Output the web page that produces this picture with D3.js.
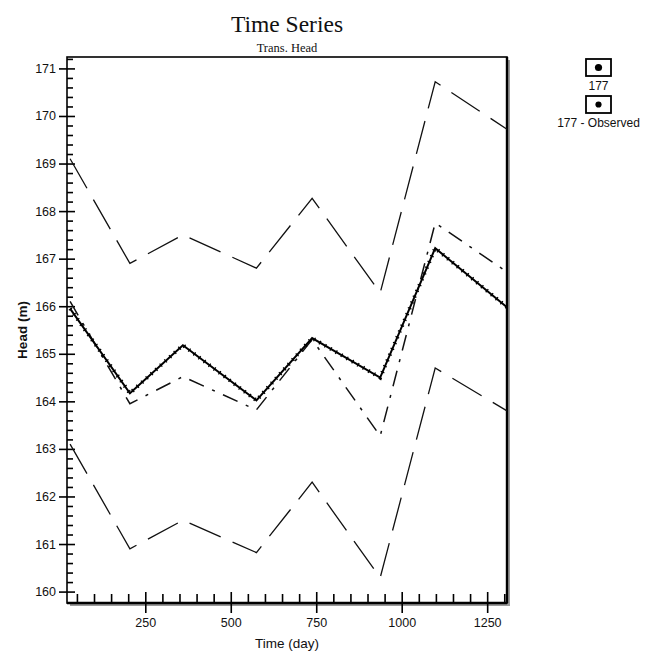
<!DOCTYPE html>
<html>
<head>
<meta charset="utf-8">
<script src="https://cdn.jsdelivr.net/npm/d3@7"></script>
<style>
  body { margin: 0; background: #fff; }
  svg { display: block; }
  text { font-family: "Liberation Sans", Arial, sans-serif; fill: #111; }
</style>
</head>
<body>
<svg id="chart" width="655" height="652"></svg>
<script>
// ---- data ----
const times      = [30, 205, 360, 575, 738, 937, 1098, 1308];
const simulated  = [165.95, 164.17, 165.18, 164.02, 165.33, 164.5, 167.22, 165.98];
const observed   = [166.1, 163.95, 164.52, 163.82, 165.3, 163.27, 167.75, 166.72];
const upperBound = [169.1, 166.9, 167.5, 166.8, 168.27, 166.28, 170.72, 169.72];
const lowerBound = [163.1, 160.9, 161.5, 160.82, 162.3, 160.29, 164.7, 163.8];
const yMajorTicks = [160, 161, 162, 163, 164, 165, 166, 167, 168, 169, 170, 171];
const xMajorTicks = [250, 500, 750, 1000, 1250];
const legendLabels = ["177", "177 - Observed"];

const svg = d3.select("#chart");
const L = 67, R = 507, T = 57, B = 603;

const x = d3.scaleLinear().domain([21, 1308]).range([L, R]);
const y = d3.scaleLinear().domain([159.76, 171.24]).range([B, T]);

// shadow + frame
svg.append("rect").attr("x", L + 3).attr("y", T + 3).attr("width", R - L).attr("height", B - T)
  .attr("fill", "#9a9a9a");
svg.append("rect").attr("x", L).attr("y", T).attr("width", R - L).attr("height", B - T)
  .attr("fill", "#fff").attr("stroke", "#000").attr("stroke-width", 1.6);
svg.append("line").attr("x1", R).attr("x2", R).attr("y1", T).attr("y2", B)
  .attr("stroke", "#000").attr("stroke-width", 2.4);
svg.append("line").attr("x1", L).attr("x2", R).attr("y1", B).attr("y2", B)
  .attr("stroke", "#000").attr("stroke-width", 2.4);

// y axis
const yMinor = d3.range(160, 171.2001, 0.2).map(v => +v.toFixed(1)).filter(v => Math.abs(v - Math.round(v)) > 0.01);
const yMinorAxis = svg.append("g").attr("transform", `translate(${L},0)`)
  .call(d3.axisLeft(y).tickValues(yMinor).tickSize(-6).tickFormat(""));
yMinorAxis.select(".domain").remove();
const yAxis = svg.append("g").attr("transform", `translate(${L},0)`)
  .call(d3.axisLeft(y).tickValues(yMajorTicks).tickSize(8).tickPadding(3).tickFormat(d3.format("d")));
yAxis.selectAll(".tick line").attr("x1", 8).attr("x2", -8).attr("stroke-width", 1.6);
yAxis.select(".domain").remove();
yAxis.selectAll("text").attr("font-size", 12.5).style("font-family", "Liberation Sans, Arial, sans-serif").attr("fill", "#222");
svg.selectAll(".tick line").attr("stroke", "#000");
yMinorAxis.selectAll(".tick line").attr("stroke-width", 1.6);

// x axis
const xMinor = d3.range(50, 1301, 50).filter(v => v % 250 !== 0);
const xMinorAxis = svg.append("g").attr("transform", `translate(0,${B})`)
  .call(d3.axisBottom(x).tickValues(xMinor).tickSize(-9).tickFormat(""));
xMinorAxis.select(".domain").remove();
xMinorAxis.selectAll(".tick line").attr("stroke", "#000").attr("stroke-width", 1.6);
const xAxis = svg.append("g").attr("transform", `translate(0,${B})`)
  .call(d3.axisBottom(x).tickValues(xMajorTicks).tickSize(10).tickPadding(5).tickFormat(d3.format("d")));
xAxis.selectAll(".tick line").attr("y1", -11).attr("y2", 10).attr("stroke", "#000").attr("stroke-width", 1.6);
xAxis.select(".domain").remove();
xAxis.selectAll("text").attr("font-size", 12.5).style("font-family", "Liberation Sans, Arial, sans-serif").attr("fill", "#222");

// axis titles
svg.append("text").attr("x", (L + R) / 2).attr("y", 648).attr("text-anchor", "middle")
  .attr("font-size", 13.5).text("Time (day)");
svg.append("text").attr("transform", `translate(27,${(T + B) / 2}) rotate(-90)`)
  .attr("text-anchor", "middle").attr("font-size", 13.5).attr("font-weight", "bold").text("Head (m)");

// titles
svg.append("text").attr("x", (L + R) / 2).attr("y", 32).attr("text-anchor", "middle")
  .style("font-family", "Liberation Serif, Times New Roman, serif").attr("font-size", 23.5).text("Time Series");
svg.append("text").attr("x", (L + R) / 2).attr("y", 52).attr("text-anchor", "middle")
  .style("font-family", "Liberation Serif, Times New Roman, serif").attr("font-size", 12.5).text("Trans. Head");

// lines
const line = vals => d3.line().x((d, i) => x(times[i])).y(d => y(d))(vals);
const plot = svg.append("g");

plot.append("path").attr("d", line(upperBound)).attr("fill", "none")
  .attr("stroke", "#111").attr("stroke-width", 1.3).attr("stroke-dasharray", "34,13");
plot.append("path").attr("d", line(lowerBound)).attr("fill", "none")
  .attr("stroke", "#111").attr("stroke-width", 1.3).attr("stroke-dasharray", "34,13");
plot.append("path").attr("d", line(observed)).attr("fill", "none")
  .attr("stroke", "#111").attr("stroke-width", 1.5).attr("stroke-dasharray", "16,9,3,9");
plot.append("path").attr("d", line(simulated)).attr("fill", "none")
  .attr("stroke", "#000").attr("stroke-width", 2);
plot.append("path").attr("d", line(simulated)).attr("fill", "none")
  .attr("stroke", "#000").attr("stroke-width", 4).attr("stroke-dasharray", "1.3,5");

// legend
const lg = svg.append("g");
legendLabels.forEach((lab, i) => {
  const by = 59 + i * 37;
  lg.append("rect").attr("x", 586).attr("y", by).attr("width", 25).attr("height", 17)
    .attr("fill", "#fff").attr("stroke", "#000").attr("stroke-width", 1.8);
  lg.append("circle").attr("cx", 598.5).attr("cy", by + 8.5).attr("r", i === 0 ? 3.6 : 3.1).attr("fill", "#000");
  lg.append("text").attr("x", 598.5).attr("y", by + 31).attr("text-anchor", "middle")
    .attr("font-size", 12).text(lab);
});
</script>
</body>
</html>
